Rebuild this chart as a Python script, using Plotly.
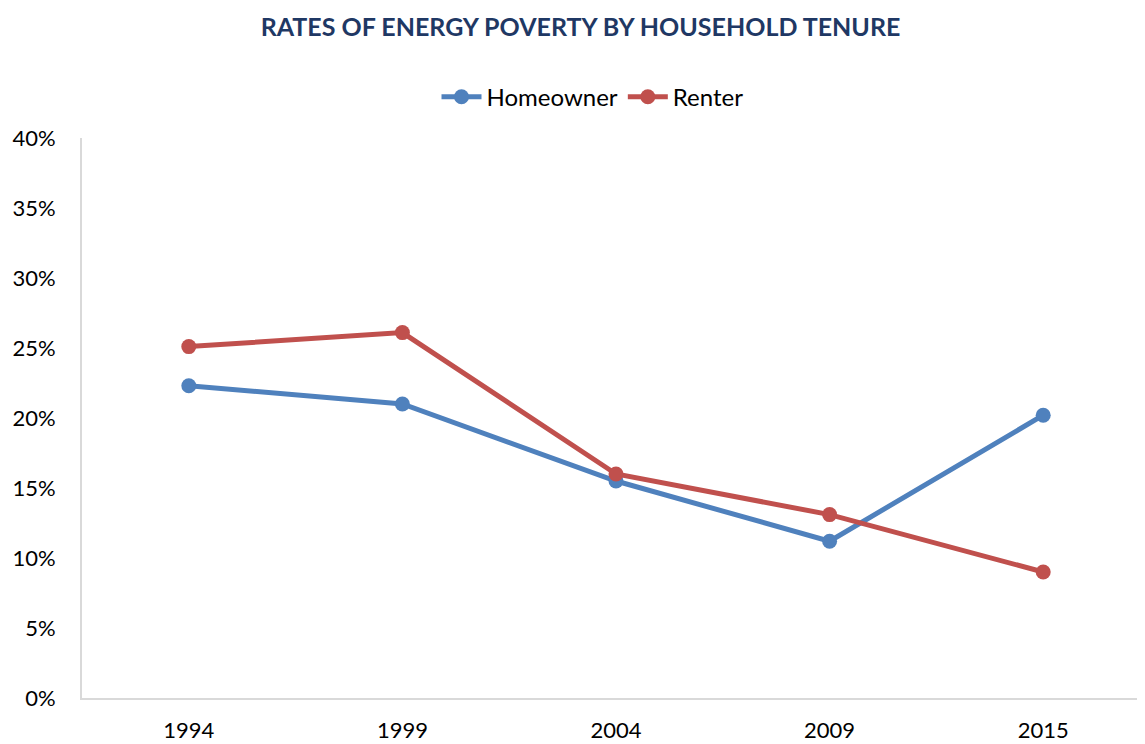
import plotly.graph_objects as go

years = ["1994", "1999", "2004", "2009", "2015"]
homeowner = [0.223, 0.210, 0.155, 0.112, 0.202]
renter = [0.251, 0.261, 0.160, 0.131, 0.090]
y_ticks = [0, 0.05, 0.10, 0.15, 0.20, 0.25, 0.30, 0.35, 0.40]

FONT = "Lato"
fig = go.Figure()
fig.add_trace(go.Scatter(x=years, y=homeowner, name="Homeowner", mode="lines+markers",
                         line=dict(color="#4F81BD", width=5),
                         marker=dict(color="#4F81BD", size=15)))
fig.add_trace(go.Scatter(x=years, y=renter, name="Renter", mode="lines+markers",
                         line=dict(color="#C0504D", width=5),
                         marker=dict(color="#C0504D", size=15)))

fig.update_layout(
    width=1145, height=744,
    margin=dict(l=74, r=3, t=130, b=54),
    paper_bgcolor="white", plot_bgcolor="white",
    font=dict(family=FONT, size=22, color="black"),
    title=dict(text="<b>RATES OF ENERGY POVERTY BY HOUSEHOLD TENURE</b>",
               x=0.5, xanchor="center", y=0.9745, yanchor="middle",
               font=dict(family=FONT, size=25, color="#1F3864")),
    legend=dict(orientation="h", x=0.478, xanchor="center", y=1.073, yanchor="middle",
                font=dict(size=24), itemwidth=40, traceorder="normal"),
    showlegend=True,
)
fig.update_xaxes(type="category", range=[-0.5, 4.5], showline=True, linecolor="#D9D9D9",
                 linewidth=2, showgrid=False, ticks="outside", ticklen=12, tickcolor="white",
                 tickfont=dict(size=22))
fig.update_yaxes(range=[0, 0.40], tickvals=y_ticks, tickformat=".0%", showline=True,
                 linecolor="#D9D9D9", linewidth=2, showgrid=False, zeroline=False,
                 ticks="outside", ticklen=20, tickcolor="white", tickfont=dict(size=22))

fig.write_html("out.html")
